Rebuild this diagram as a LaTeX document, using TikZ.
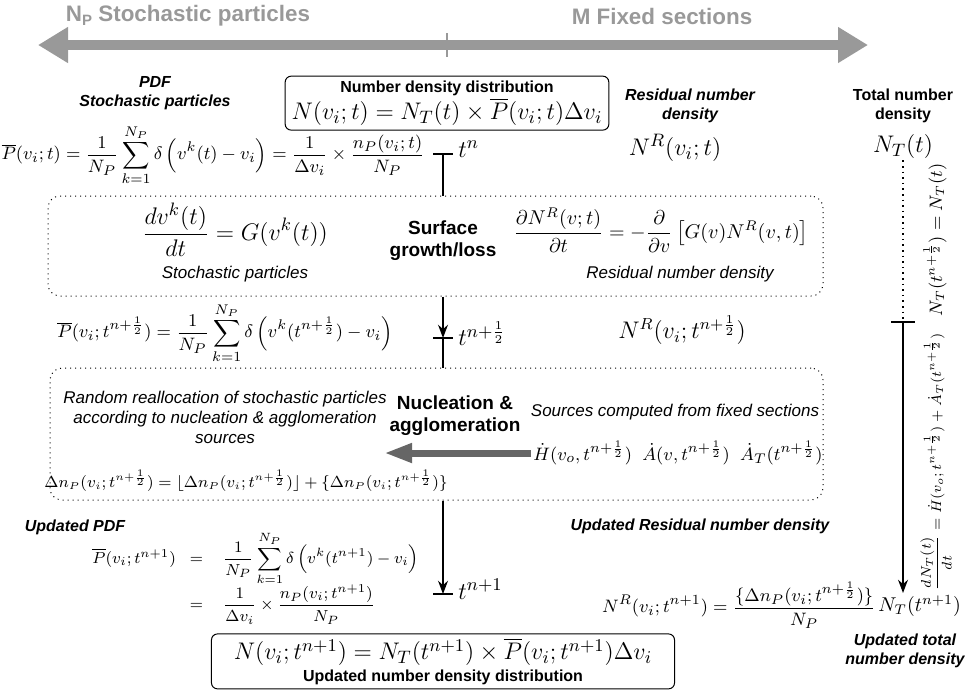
\documentclass[tikz,border=0pt]{standalone}
\usepackage{amsmath,amssymb}
\usepackage[no-math]{fontspec}
\setmainfont{Liberation Sans}
\usetikzlibrary{positioning,arrows.meta,fit}
\tikzset{
  >=Stealth,
  eqn/.style={font=\fontsize{9.5}{11}\selectfont,inner sep=1pt},
  bigeq/.style={font=\fontsize{12.5}{14}\selectfont,inner sep=1pt},
  smalleq/.style={font=\fontsize{7.7}{9}\selectfont,inner sep=1pt},
  roteq/.style={font=\fontsize{7.5}{9}\selectfont,inner sep=1pt,rotate=90},
  hdr/.style={font=\fontsize{11.2}{13}\selectfont\bfseries,text=black!40},
  lblb/.style={font=\fontsize{8}{9.2}\selectfont\bfseries,align=center,inner sep=1pt},
  lblbi/.style={font=\fontsize{8}{9.2}\selectfont\bfseries\itshape,align=center,inner sep=1pt},
  lbli/.style={font=\fontsize{8.5}{10}\selectfont\itshape,align=center,inner sep=1pt},
  opname/.style={font=\fontsize{9.5}{11}\selectfont\bfseries,align=center,inner sep=1pt},
  solidbox/.style={draw,rounded corners=3pt,line width=0.5pt},
  dotbox/.style={draw,dotted,rounded corners=6pt,line width=0.5pt,inner sep=0pt},
  taxis/.style={line width=0.8pt},
  bigdbl/.style={line width=5pt,draw=black!40,{Triangle[length=15pt,width=17pt]}-{Triangle[length=15pt,width=17pt]}},
  srcarrow/.style={line width=3.5pt,draw=black!60,-{Triangle[length=14pt,width=9pt]}},
}
\begin{document}
\begin{tikzpicture}[x=0.5pt,y=-0.5pt]
  \useasboundingbox (0,0) rectangle (968,693);

  % header arrow
  \node[hdr] (hdrL) at (188,16) {N\raisebox{-0.3ex}{\fontsize{7.5}{8}\selectfont P} Stochastic particles};
  \node[hdr] (hdrR) at (662,16) {M Fixed sections};
  \coordinate (arrL) at (38,45);
  \coordinate (arrR) at (868,45);
  \coordinate (tickT) at (447,33);
  \coordinate (tickB) at (447,57);
  \draw[bigdbl] (arrL) -- (arrR);
  \draw[black!40,line width=0.6pt] (tickT) -- (tickB);

  % number density at t^n
  \node[lblb] (nddT) at (447,88) {Number density distribution};
  \node[bigeq] (nddF) at (447,112) {$N(v_i;t)=N_T(t)\times\overline{P}(v_i;t)\Delta v_i$};
  \node[solidbox,fit=(nddT)(nddF),inner xsep=2pt,inner ysep=1pt] (ndd) {};

  \node[lblbi] (pdfL) at (155,93) {PDF\\Stochastic particles};
  \node[eqn,anchor=east] (P0) at (427,155)
    {$\displaystyle\overline{P}(v_i;t)=\frac{1}{N_P}\sum_{k=1}^{N_P}\delta\left(v^k(t)-v_i\right)=\frac{1}{\Delta v_i}\times\frac{n_P(v_i;t)}{N_P}$};
  \node[lblbi] (resL) at (690,106) {Residual number\\density};
  \node[bigeq] (NR0) at (675,148) {$N^R(v_i;t)$};
  \node[lblb] (totL) at (903,106) {Total number\\density};
  \node[bigeq] (NT0) at (903,146) {$N_T(t)$};

  % surface growth
  \node[dotbox,fit={(48,196) (823,296)}] (box1) {};
  \node[bigeq] (grL) at (235,230) {$\displaystyle\frac{dv^k(t)}{dt}=G(v^k(t))$};
  \node[lbli] (grLl) at (235,274) {Stochastic particles};
  \node[opname] (grow) at (443,241) {Surface\\growth/loss};
  \node[eqn,font=\fontsize{10.4}{12}\selectfont] (grR) at (661,230)
    {$\displaystyle\frac{\partial N^R(v;t)}{\partial t}=-\frac{\partial}{\partial v}\left[G(v)N^R(v,t)\right]$};
  \node[lbli] (grRl) at (680,274) {Residual number density};

  % half step
  \node[eqn] (Ph) at (225,333)
    {$\displaystyle\overline{P}(v_i;t^{n+\frac{1}{2}})=\frac{1}{N_P}\sum_{k=1}^{N_P}\delta\left(v^k(t^{n+\frac{1}{2}})-v_i\right)$};
  \node[bigeq,font=\fontsize{11.5}{13}\selectfont] (NRh) at (682,330) {$N^R(v_i;t^{n+\frac{1}{2}})$};

  % nucleation and agglomeration
  \node[dotbox,fit={(50,368) (823,500)}] (box2) {};
  \node[lbli] (realloc) at (225,417) {Random reallocation of stochastic particles\\according to nucleation \& agglomeration\\sources};
  \node[opname] (nucl) at (455,416) {Nucleation \&\\agglomeration};
  \node[lbli] (srcL) at (675,412) {Sources computed from fixed sections};
  \node[eqn,anchor=west] (Hsrc) at (531,453)
    {$\dot{H}(v_o,t^{n+\frac{1}{2}})\;\;\dot{A}(v,t^{n+\frac{1}{2}})\;\;\dot{A}_T(t^{n+\frac{1}{2}})$};
  \coordinate (srcEnd) at (384,453);
  \draw[srcarrow] (Hsrc.west) -- (srcEnd);
  \node[smalleq] (dnP) at (246,481)
    {$\Delta n_P(v_i;t^{n+\frac{1}{2}})=\lfloor\Delta n_P(v_i;t^{n+\frac{1}{2}})\rfloor+\{\Delta n_P(v_i;t^{n+\frac{1}{2}})\}$};

  % updated values
  \node[lblbi] (updP) at (75,527) {Updated PDF};
  \node[eqn,anchor=west,font=\fontsize{8}{10}\selectfont] (Pn1) at (80,578)
    {$\begin{array}{r@{\hspace{7pt}}c@{\hspace{10pt}}l}
      \overline{P}(v_i;t^{n+1}) & = & \displaystyle\frac{1}{N_P}\sum_{k=1}^{N_P}\delta\left(v^k(t^{n+1})-v_i\right)\\[3pt]
       & = & \displaystyle\frac{1}{\Delta v_i}\times\frac{n_P(v_i;t^{n+1})}{N_P}
    \end{array}$};
  \node[lblbi] (updR) at (700,526) {Updated Residual number density};
  \node[eqn,anchor=east] (NR1) at (878,605)
    {$\displaystyle N^R(v_i;t^{n+1})=\frac{\{\Delta n_P(v_i;t^{n+\frac{1}{2}})\}}{N_P}$};
  \node[eqn,font=\fontsize{10}{12}\selectfont,anchor=west] (NT1) at (876,606) {$N_T(t^{n+1})$};
  \node[lblbi] (updT) at (905,651) {Updated total\\number density};

  \node[bigeq] (N1F) at (443,652) {$N(v_i;t^{n+1})=N_T(t^{n+1})\times\overline{P}(v_i;t^{n+1})\Delta v_i$};
  \node[lblb] (N1T) at (443,677) {Updated number density distribution};
  \node[solidbox,fit=(N1F)(N1T),inner xsep=10pt,inner ysep=1pt] (N1box) {};

  % time axis
  \coordinate (b0) at (443,154);
  \coordinate (b1) at (443,338);
  \coordinate (b2) at (443,594);
  \node[bigeq,anchor=west] (tn) at (456,149) {$t^n$};
  \node[bigeq,anchor=west] (tnh) at (456,334) {$t^{n+\frac{1}{2}}$};
  \node[bigeq,anchor=west] (tn1) at (456,589) {$t^{n+1}$};
  \draw[taxis] (b0) -- (b0 |- box1.north);
  \draw[taxis,->] (b0 |- box1.south) -- (b1);
  \draw[taxis] (b1) -- (b1 |- box2.north);
  \draw[taxis,->] (b1 |- box2.south) -- (b2);
  \foreach \b in {b0,b1,b2}
    \draw[taxis] ([xshift=-5pt]\b) -- ([xshift=5pt]\b);

  % total number density
  \coordinate (vt) at (903,322);
  \draw[taxis,dotted] (NT0.south) -- (vt);
  \draw[taxis] ([xshift=-6pt]vt) -- ([xshift=6pt]vt);
  \draw[taxis,->] (vt) -- (vt |- NT1.north);
  \node[roteq,font=\fontsize{8.6}{10}\selectfont] (NTh) at (935,240) {$N_T(t^{n+\frac{1}{2}})=N_T(t)$};
  \node[roteq] (dNT) at (936,462)
    {$\dfrac{dN_T(t)}{dt}=\dot{H}(v_o;t^{n+\frac{1}{2}})+\dot{A}_T(t^{n+\frac{1}{2}})$};
\end{tikzpicture}
\end{document}
